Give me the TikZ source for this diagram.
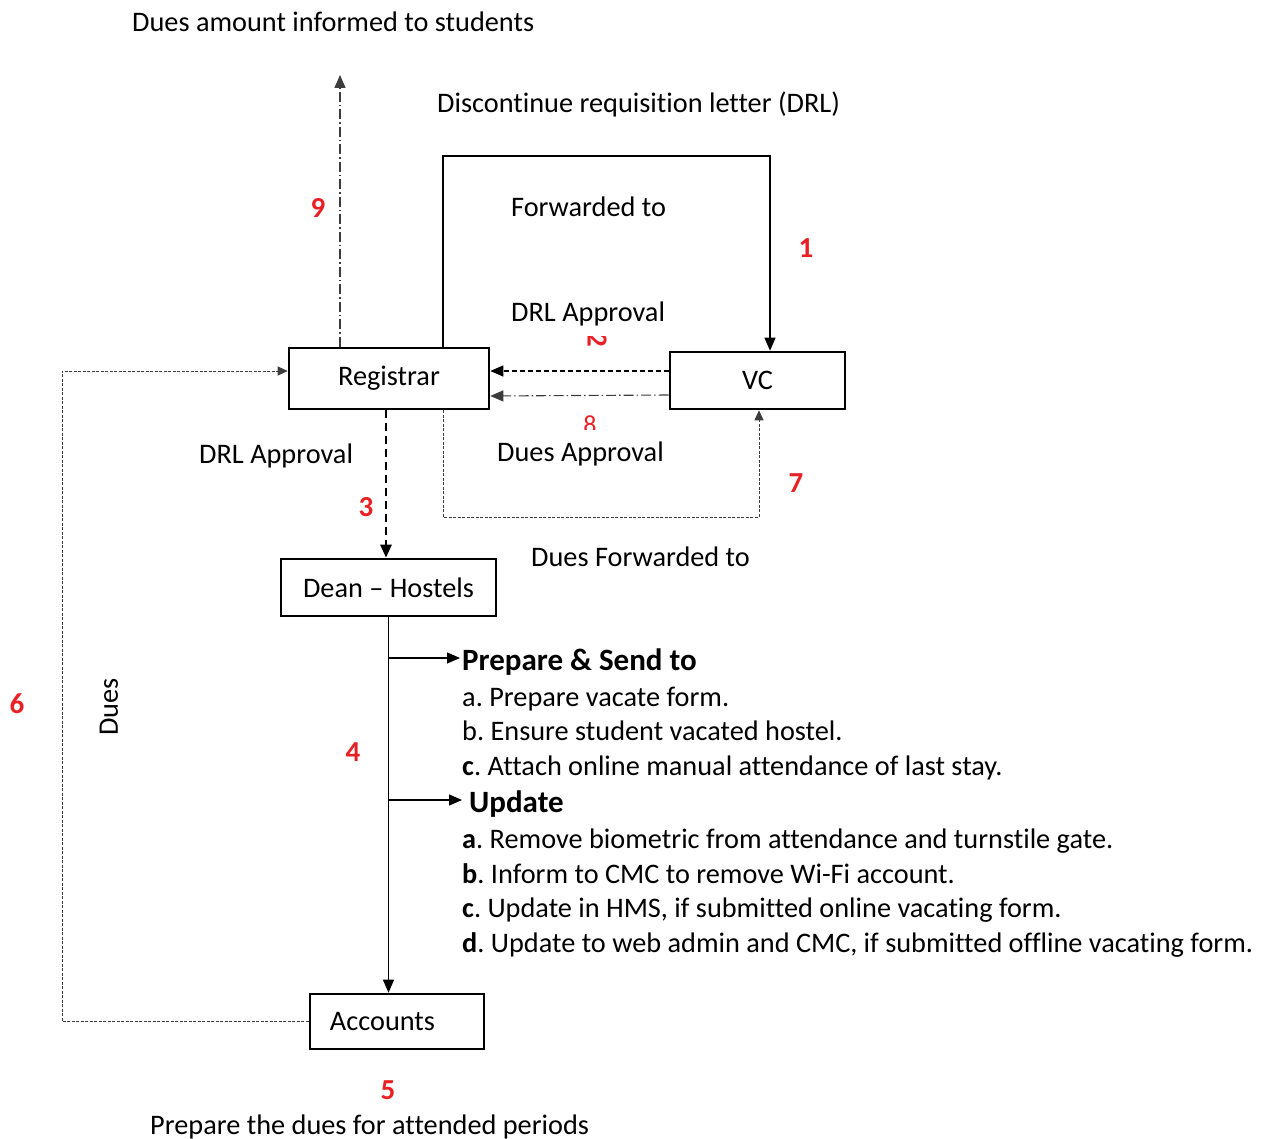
\documentclass[tikz,border=0pt]{standalone}
\usepackage{fontspec}
\setmainfont{Carlito}[Ligatures=NoCommon]
\usetikzlibrary{arrows.meta}
\definecolor{numred}{RGB}{232,32,36}
\definecolor{lineg}{RGB}{60,60,60}
\frenchspacing
\begin{document}
\begin{tikzpicture}[x=1pt,y=-1pt,
  box/.style={draw, line width=2.6pt, inner sep=0pt, font=\fontsize{28.3}{32}\selectfont},
  lbl/.style={anchor=base west, inner sep=0pt, font=\fontsize{28.3}{32}\selectfont},
  head/.style={anchor=base west, inner sep=0pt, font=\bfseries\fontsize{31}{35}\selectfont},
  num/.style={anchor=base, inner sep=0pt, text=numred, font=\bfseries\fontsize{29}{32}\selectfont},
  tip/.style={-{Triangle[length=13pt,width=11pt]}},
  smalltip/.style={-{Triangle[length=10pt,width=9pt]}},
  plain/.style={line width=1.1pt, tip},
  dashline/.style={line width=1.1pt, dash pattern=on 5pt off 3pt, tip},
  dashdotline/.style={line width=1.1pt, lineg, dash pattern=on 10pt off 3pt on 1.5pt off 3pt, tip},
  thickdash/.style={line width=2.6pt, dash pattern=on 8pt off 5pt, tip},
  fineline/.style={line width=1pt, lineg, dash pattern=on 3pt off 1.5pt, smalltip},
]
\useasboundingbox (0,0) rectangle (1273,1139);

% process boxes
\node[box, minimum width=200pt, minimum height=61pt] (reg) at (389,378.5) {Registrar};
\node[box, minimum width=175pt, minimum height=57pt] (vc) at (757.5,380.5) {VC};
\node[box, minimum width=215pt, minimum height=57pt] (dean) at (388.5,587.5) {Dean -- Hostels};
\node[box, minimum width=174pt, minimum height=55pt] (acc) at (397,1021.5) {Accounts\rule{29pt}{0pt}};

% routing points
\coordinate (top1) at (0,156);
\coordinate (t9) at (340,75);
\coordinate (low7) at (0,517);
\coordinate (c6) at (62,371);
\coordinate (b1) at (460,658);
\coordinate (b2) at (462,800);

% 1: forwarded to VC
\draw[plain] ([xshift=54pt]reg.north) coordinate (r1) -- (r1 |- top1)
  -- ([xshift=12.5pt]vc.north |- top1) -- ([xshift=12.5pt]vc.north);
% 9: dues informed to students
\draw[dashdotline] (reg.north -| t9) -- (t9);
% 2: DRL approval back to registrar
\draw[dashline] (vc.west |- 0,371) -- (reg.east |- 0,371);
% 8: dues approval back to registrar
\draw[dashdotline] (vc.west |- 0,395) -- (reg.east |- 0,396);
% 3: registrar to dean
\draw[thickdash] ([xshift=-3pt]reg.south) -- ([xshift=-2.5pt]dean.north);
% 7: dues forwarded to VC
\draw[fineline] ([xshift=54pt]reg.south) coordinate (r7) -- (r7 |- low7)
  -- ([xshift=1.5pt]vc.south |- low7) -- ([xshift=1.5pt]vc.south);
% 4: dean to accounts
\draw[line width=1.1pt, tip] (dean.south) -- (dean.south |- acc.north);
\draw[line width=1.1pt, tip] (b1 -| dean.south) -- (b1);
\draw[line width=1.1pt, tip] (b2 -| dean.south) -- (b2);
% 6: dues back to registrar
\draw[fineline] (acc.west) -| (c6) -- (reg.west |- c6);

% labels
\node[lbl] (l1) at (132,32) {Dues amount informed to students};
\node[lbl] (l2) at (437,113) {Discontinue requisition letter (DRL)};
\node[lbl] (l3) at (511,217) {Forwarded to};
\node[lbl] (l4) at (511,321) {DRL Approval};
\node[lbl] (l5) at (497,461) {Dues Approval};
\node[lbl] (l6) at (199,463) {DRL Approval};
\node[lbl] (l7) at (531,566) {Dues Forwarded to};
\node[lbl, rotate=90, anchor=center] (l8) at (109,707) {Dues};
\node[lbl] (l9) at (150,1134) {Prepare the dues for attended periods};

\node[head] (h1) at (462,670) {Prepare \& Send to};
\node[lbl] (a1) at (462,706) {a. Prepare vacate form.};
\node[lbl] (a2) at (462,740) {b. Ensure student vacated hostel.};
\node[lbl] (a3) at (462,775) {\textbf{c}. Attach online manual attendance of last stay.};
\node[head] (h2) at (469,812) {Update};
\node[lbl] (u1) at (462,848) {\textbf{a}. Remove biometric from attendance and turnstile gate.};
\node[lbl] (u2) at (462,883) {\textbf{b}. Inform to CMC to remove Wi-Fi account.};
\node[lbl] (u3) at (462,917) {\textbf{c}. Update in HMS, if submitted online vacating form.};
\node[lbl] (u4) at (462,952) {\textbf{d}. Update to web admin and CMC, if submitted offline vacating form.};

% step numbers
\node[num] (n1) at (806,258) {1};
\node[num] (n9) at (318,218) {9};
\node[num] (n3) at (366,516) {3};
\node[num] (n7) at (796,492) {7};
\node[num] (n4) at (353,761) {4};
\node[num] (n6) at (17,713) {6};
\node[num] (n5) at (388,1099) {5};
\begin{scope}
  \clip (575,336) rectangle (620,360);
  \node[num, anchor=center, rotate=-90] (n2) at (597,340) {2};
\end{scope}
\begin{scope}
  \clip (570,405) rectangle (615,429);
  \node[num, font=\fontsize{26}{30}\selectfont, anchor=north, text height=14pt, text depth=0pt] (n8) at (590,419) {8};
\end{scope}
\end{tikzpicture}
\end{document}
